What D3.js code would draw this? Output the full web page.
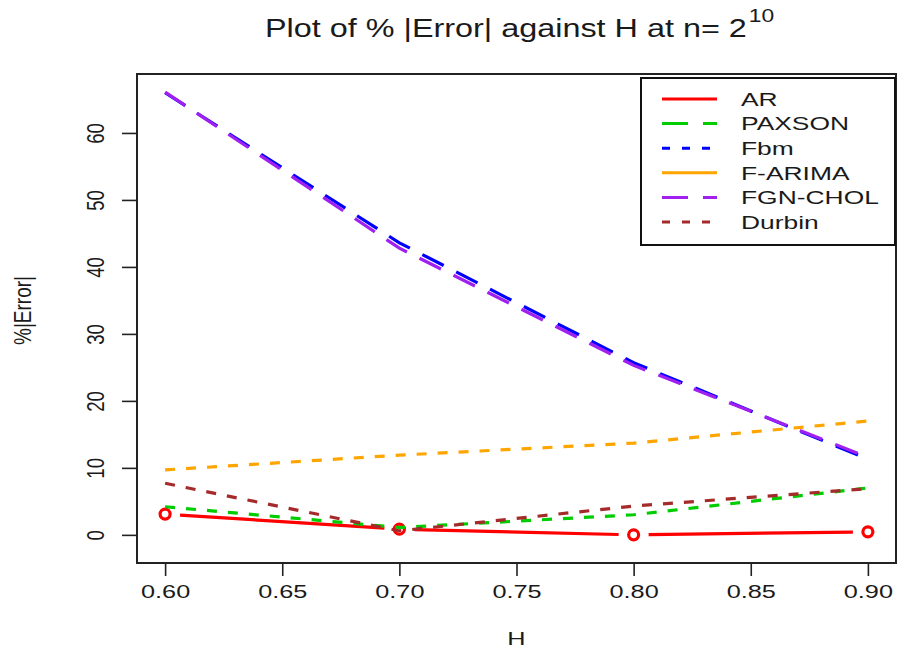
<!DOCTYPE html>
<html>
<head>
<meta charset="utf-8">
<script src="https://cdn.jsdelivr.net/npm/d3@7"></script>
<style>
  body { margin: 0; background: #fff; }
  text { font-family: "Liberation Sans", Arial, sans-serif; fill: #1a1a1a; }
</style>
</head>
<body>
<div id="chart"></div>
<script>
// data
var hValues = [0.6, 0.7, 0.8, 0.9]
var arErr = [3.1, 0.85, 0.0, 0.45]
var paxsonErr = [4.2, 1.1, 3.0, 7.0]
var fbmErr = [66.0, 43.6, 25.7, 11.3]
var farimaErr = [9.7, 11.9, 13.7, 17.0]
var fgnCholErr = [66.1, 42.8, 25.3, 11.6]
var durbinErr = [7.7, 0.6, 4.3, 6.9]
var seriesNames = ["AR", "PAXSON", "Fbm", "F-ARIMA", "FGN-CHOL", "Durbin"]
var xTicks = [0.60, 0.65, 0.70, 0.75, 0.80, 0.85, 0.90]
var yTicks = [0, 10, 20, 30, 40, 50, 60]

// styles
var colors = ["#ff0000", "#00cd00", "#0000ff", "#ffa500", "#a020f0", "#a52a2a"]
var plotDash = [null, "10 11", "24 14", "10 11", "24 14", "10 11"]
var legendDash = [null, "26 15", "8 12", null, "26 15", "8 12"]

var svgSize = { width: 897, height: 650 }
var margin = { top: 74, bottom: 87, left: 137, right: 1 }
var chartSize = {
    width: svgSize.width - margin.left - margin.right,
    height: svgSize.height - margin.top - margin.bottom
}
var stretch = 1.36   // the picture is wider than it is tall

var svg = d3.select("#chart").append("svg")
    .attr("width", svgSize.width)
    .attr("height", svgSize.height)

var xScale = d3.scaleLinear().domain([0.588, 0.912]).range([0, chartSize.width])
var yScale = d3.scaleLinear().domain([-4.2, 68.8]).range([chartSize.height, 0])

var frame = svg.append("g").attr("transform", `translate(${margin.left},${margin.top})`)

// axes
var bottomAxis = d3.axisBottom(xScale).tickValues(xTicks).tickFormat(d3.format(".2f")).tickSize(13)
var leftAxis = d3.axisLeft(yScale).tickValues(yTicks).tickSize(15)

var xAxis = frame.append("g").attr("transform", `translate(0,${chartSize.height})`).call(bottomAxis)
var yAxis = frame.append("g").call(leftAxis)
;[xAxis, yAxis].forEach(ax => {
    ax.select(".domain").remove()
    ax.selectAll("line").attr("stroke", "#222").attr("stroke-width", 1.6)
})
xAxis.selectAll("text")
    .attr("y", null).attr("dy", null)
    .attr("transform", d => `translate(0,35) scale(${stretch},1)`)
    .style("font-size", "18.6px")
    .attr("fill", "#1a1a1a")
yAxis.selectAll("text")
    .attr("x", null).attr("dy", null)
    .attr("text-anchor", "middle")
    .attr("transform", `translate(-33,0) rotate(-90) scale(1,1.26)`)
    .style("font-size", "18.6px")
    .attr("fill", "#1a1a1a")

// box
frame.append("rect")
    .attr("width", chartSize.width).attr("height", chartSize.height)
    .attr("fill", "none").attr("stroke", "#222").attr("stroke-width", 2)

// series lines
var allSeries = [arErr, paxsonErr, fbmErr, farimaErr, fgnCholErr, durbinErr]
var line = d3.line().x(d => xScale(d.h)).y(d => yScale(d.v))
var chartData = frame.append("g")

allSeries.forEach((vals, i) => {
    var pts = vals.map((v, j) => ({ h: hValues[j], v: v }))
    if (i == 0) {
        // type "b": segments with gaps around the open circles
        var gap = 15
        for (var j = 0; j < pts.length - 1; j++) {
            var x0 = xScale(pts[j].h), y0 = yScale(pts[j].v)
            var x1 = xScale(pts[j + 1].h), y1 = yScale(pts[j + 1].v)
            var len = Math.hypot(x1 - x0, y1 - y0)
            var ux = (x1 - x0) / len, uy = (y1 - y0) / len
            chartData.append("line")
                .attr("x1", x0 + ux * gap).attr("y1", y0 + uy * gap)
                .attr("x2", x1 - ux * gap).attr("y2", y1 - uy * gap)
                .attr("stroke", colors[i]).attr("stroke-width", 3.2)
        }
        chartData.selectAll("circle").data(pts).enter().append("circle")
            .attr("cx", d => xScale(d.h)).attr("cy", d => yScale(d.v))
            .attr("r", 5).attr("fill", "none")
            .attr("stroke", colors[i]).attr("stroke-width", 3.2)
    } else {
        chartData.append("path")
            .attr("d", line(pts))
            .attr("fill", "none")
            .attr("stroke", colors[i])
            .attr("stroke-width", 3.2)
            .attr("stroke-dasharray", plotDash[i])
    }
})

// legend
var legend = svg.append("g")
legend.append("rect")
    .attr("x", 641).attr("y", 78).attr("width", 254).attr("height", 167)
    .attr("fill", "#fff").attr("stroke", "#111").attr("stroke-width", 2)
seriesNames.forEach((name, i) => {
    var ly = 99 + i * 24.6
    legend.append("line")
        .attr("x1", 662).attr("x2", 717).attr("y1", ly).attr("y2", ly)
        .attr("stroke", colors[i]).attr("stroke-width", 3)
        .attr("stroke-dasharray", legendDash[i])
    legend.append("text")
        .attr("transform", `translate(741,${ly + 6.7}) scale(1.42,1)`)
        .style("font-size", "18.6px")
        .text(name)
})

// title
var title = svg.append("text")
    .attr("transform", "translate(265,36.5) scale(1.27,1)")
    .style("font-size", "25.5px")
    .text("Plot of % |Error| against H at n= 2")
var tlen = title.node().getComputedTextLength() * 1.27
svg.append("text")
    .attr("transform", `translate(${265 + tlen + 2},22) scale(1.27,1)`)
    .style("font-size", "18px")
    .text("10")

// axis titles
svg.append("text")
    .attr("text-anchor", "middle")
    .attr("transform", `translate(${margin.left + xScale(0.75)},645) scale(${stretch},1)`)
    .style("font-size", "18.6px")
    .text("H")
svg.append("text")
    .attr("text-anchor", "middle")
    .attr("transform", `translate(31,${margin.top + chartSize.height / 2 - 8}) rotate(-90) scale(1,1.26)`)
    .style("font-size", "19px")
    .text("%|Error|")
</script>
</body>
</html>
